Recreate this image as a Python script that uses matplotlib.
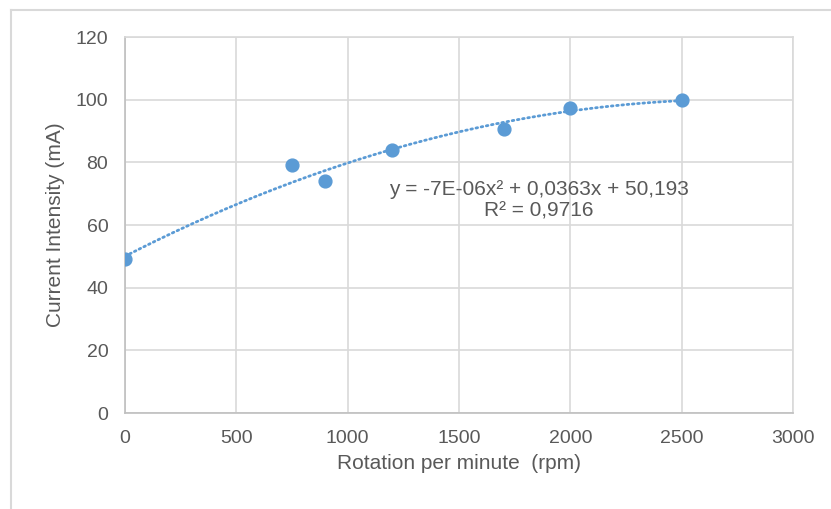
import numpy as np
from matplotlib import pyplot as plt
from matplotlib.lines import Line2D

plt.rcParams['font.family'] = ['Liberation Sans', 'DejaVu Sans']

rpm = [0, 750, 900, 1200, 1700, 2000, 2500]
current = [49, 79, 74, 84, 90.5, 97.5, 100]
xticks = [0, 500, 1000, 1500, 2000, 2500, 3000]
yticks = [0, 20, 40, 60, 80, 100, 120]
eq_text = 'y = -7E-06x² + 0,0363x + 50,193\nR² = 0,9716'

grey = '#595959'
gridc = '#d9d9d9'
blue = '#5b9bd5'

fig = plt.figure(figsize=(8.31, 5.09), dpi=100)
ax = fig.add_axes([0.1504, 0.1886, 0.8039, 0.7387])

# quadratic trendline fitted on the points
coef = np.polyfit(rpm, current, 2)
xs = np.linspace(0, 2500, 200)
ax.plot(xs, np.polyval(coef, xs), color=blue, lw=2, ls=(0, (0.6, 1.3)),
        dash_capstyle='round', zorder=2)
ax.scatter(rpm, current, s=85, color=blue, zorder=3)

ax.set_xlim(0, 3000)
ax.set_ylim(0, 120)
ax.set_xticks(xticks)
ax.set_yticks(yticks)
ax.grid(True, color=gridc, lw=1.2)
ax.set_axisbelow(True)
for s in ax.spines.values():
    s.set_color(gridc)
    s.set_linewidth(1.2)
ax.spines['left'].set_color('#bfbfbf')
ax.spines['bottom'].set_color('#bfbfbf')
ax.tick_params(length=0, labelsize=14, colors=grey)
ax.tick_params(axis='y', pad=12)
ax.tick_params(axis='x', pad=12)

ax.set_xlabel('Rotation per minute  (rpm)', fontsize=15, color=grey, labelpad=5)
ax.set_ylabel('Current Intensity (mA)', fontsize=15, color=grey, labelpad=8)

ax.text(1860, 68.0, eq_text, ha='center', va='center', fontsize=15,
        color=grey, linespacing=1.15)

# partial outer frame
fig.add_artist(Line2D([11/831, 11/831], [0, 1 - 10/509], color=gridc, lw=1.5))
fig.add_artist(Line2D([11/831, 1], [1 - 10/509, 1 - 10/509], color=gridc, lw=1.5))

fig.savefig('out.png', dpi=100)
